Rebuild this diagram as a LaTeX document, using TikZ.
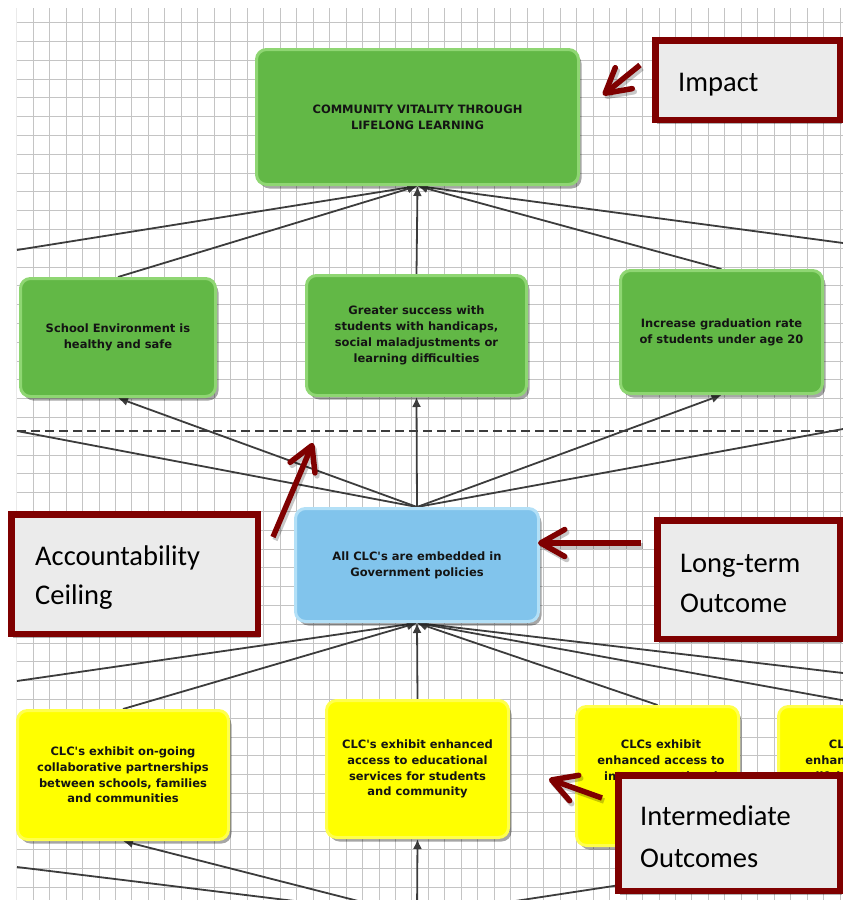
\documentclass[tikz,border=0pt]{standalone}
\usepackage{fontspec}
\newfontfamily\vfont{DejaVu Sans}
\newfontfamily\cfont{Carlito}
\usetikzlibrary{arrows.meta,shadows}
\pgfdeclarelayer{background}
\pgfsetlayers{background,main}
\definecolor{gfill}{HTML}{62B846}
\definecolor{gline}{HTML}{8FD673}
\definecolor{bfill}{HTML}{81C4EC}
\definecolor{bline}{HTML}{B3E0F7}
\definecolor{yfill}{HTML}{FFFF00}
\definecolor{yline}{HTML}{FFFF4D}
\definecolor{cred}{HTML}{7F0000}
\definecolor{cgray}{HTML}{EBEBEB}
\definecolor{conn}{HTML}{3C3C3C}
\definecolor{gridc}{HTML}{C4C4C4}
\tikzset{
  boxbase/.style={rectangle, rounded corners=10pt, line width=3pt, inner sep=0pt,
    drop shadow={shadow xshift=3pt, shadow yshift=-4pt, opacity=0.35, fill=black}},
  gbox/.style={boxbase, fill=gfill, draw=gline},
  bbox/.style={boxbase, fill=bfill, draw=bline},
  ybox/.style={boxbase, fill=yfill, draw=yline},
  btext/.style={font=\vfont\bfseries\fontsize{11.5}{15.8}\selectfont, align=center, text=black!92},
  callout/.style={rectangle, draw=cred, fill=cgray, line width=6.5pt, inner sep=0pt,
    drop shadow={shadow xshift=2pt, shadow yshift=-4pt, opacity=0.3, fill=black}},
  ctext/.style={font=\cfont\fontsize{28.5}{40}\selectfont, anchor=base west, inner sep=0pt, text=black},
  link/.style={draw=conn, line width=1.8pt, -{Latex[length=10pt,width=9pt]}},
  plainlink/.style={draw=conn, line width=1.8pt},
  callarrow/.style={draw=cred, line width=5.5pt, -{Straight Barb[length=24pt,width=27pt,round]}},
  callshadow/.style={draw=black, opacity=0.22, line width=5.5pt, -{Straight Barb[length=24pt,width=27pt,round]}},
  gridline/.style={draw=gridc, line width=1pt},
}
\begin{document}
\begin{tikzpicture}[x=1pt,y=-1pt]
\useasboundingbox (0,0) rectangle (843,900);

% boxes
\node[gbox, minimum width=322pt, minimum height=135pt] (top) at (417.5,117)
  [btext] {COMMUNITY VITALITY THROUGH\\LIFELONG LEARNING};
\node[gbox, btext, minimum width=195pt, minimum height=118pt] (A) at (118,337.5)
  {School Environment is\\healthy and safe};
\node[gbox, btext, minimum width=220pt, minimum height=120pt] (B) at (416.5,335.5)
  {Greater success with\\students with handicaps,\\social maladjustments or\\learning difficulties};
\node[gbox, btext, minimum width=202pt, minimum height=123pt] (C) at (721.5,332)
  {Increase graduation rate\\of students under age 20};
\node[bbox, btext, minimum width=243pt, minimum height=113pt] (blue) at (417,565)
  {All CLC\textquotesingle s are embedded in\\Government policies};
\node[ybox, btext, minimum width=211pt, minimum height=129pt] (Y1) at (123,775)
  {CLC\textquotesingle s exhibit on-going\\collaborative partnerships\\between schools, families\\and communities};
\node[ybox, btext, minimum width=182pt, minimum height=137pt] (Y2) at (417.5,769)
  {CLC\textquotesingle s exhibit enhanced\\access to educational\\services for students\\and community};
\node[ybox, minimum width=162pt, minimum height=139pt] (Y3) at (657.5,776) {};
\node[btext, anchor=north, inner sep=0pt] (Y3t) at (661,740)
  {CLCs exhibit\\enhanced access to\\intergenerational};
\node[ybox, minimum width=181pt, minimum height=139pt] (Y4) at (869,776) {};
\node[btext, anchor=north, inner sep=0pt] (Y4t) at (869,740)
  {CLCs exhibit\\enhanced access to\\lifelong learning};

% free ends
\coordinate (eL1) at (17,250);
\coordinate (eR1) at (843,243);
\coordinate (eL2) at (17,431);
\coordinate (eR2) at (843,429);
\coordinate (eL3) at (17,681);
\coordinate (eR3) at (843,673);
\coordinate (eL4) at (17,867);
\coordinate (src) at (417,916);
\coordinate (dashL) at (17,431);
\coordinate (dashR) at (843,431);

\begin{pgfonlayer}{background}
  \begin{scope}
    \clip (16.7,8.3) rectangle (843,900);
    \foreach \i in {0,...,50} \draw[gridline] ({16.7+16.47*\i},8.3) -- ({16.7+16.47*\i},900);
    \foreach \j in {0,...,46} \draw[gridline] (16.7,{22.7+18.8*\j}) -- (843,{22.7+18.8*\j});
  \end{scope}
  % into impact
  \draw[link] (A.north) -- (top.south);
  \draw[link] (B.north) -- (top.south);
  \draw[link] (C.north) -- (top.south);
  \draw[link] (eL1) -- (top.south);
  \draw[link] (eR1) -- (top.south);
  % from long-term outcome up
  \draw[link] (blue.north) -- (A.south);
  \draw[link] (blue.north) -- (B.south);
  \draw[link] (blue.north) -- (C.south);
  \draw[plainlink] (blue.north) -- (eL2);
  \draw[plainlink] (blue.north) -- (eR2);
  % into long-term outcome
  \draw[link] (Y1.north) -- (blue.south);
  \draw[link] (Y2.north) -- (blue.south);
  \draw[link] (Y3.north) -- (blue.south);
  \draw[link] (Y4.north) -- (blue.south);
  \draw[link] (eL3) -- (blue.south);
  \draw[link] (eR3) -- (blue.south);
  % from below
  \draw[link] (src) -- (Y1.south);
  \draw[link] (src) -- (Y2.south);
  \draw[link] (src) -- (Y4.south);
  \draw[plainlink] (src) -- (eL4);
  % accountability ceiling
  \draw[draw=conn, line width=1.8pt, dash pattern=on 9pt off 5pt] (dashL) -- (dashR);
\end{pgfonlayer}

% callouts
\node[callout, minimum width=184.5pt, minimum height=79.5pt] (impact) at (747.5,80) {};
\node[ctext] (impactT) at (678,91) {Impact};
\node[callout, minimum width=246.5pt, minimum height=119.5pt] (acc) at (134.5,574) {};
\node[ctext] (accT1) at (35,565) {Accountability};
\node[ctext] (accT2) at (35,604) {Ceiling};
\node[callout, minimum width=182.5pt, minimum height=118.5pt] (lto) at (748.5,579.5) {};
\node[ctext] (ltoT1) at (680,572) {Long-term};
\node[ctext] (ltoT2) at (680,612) {Outcome};
\node[callout, minimum width=221.5pt, minimum height=115.5pt] (inter) at (729,833) {};
\node[ctext] (interT1) at (640,825) {Intermediate};
\node[ctext] (interT2) at (640,867) {Outcomes};

% callout arrows
\coordinate (impA) at (640,65);  \coordinate (impB) at (603,95);
\coordinate (accA) at (273,537); \coordinate (accB) at (313,443);
\coordinate (ltoA) at (641,543); \coordinate (ltoB) at (538,543);
\coordinate (intA) at (602,798); \coordinate (intB) at (549,779);
\foreach \a/\b in {impA/impB, accA/accB, ltoA/ltoB, intA/intB}{
  \draw[callshadow] ([shift={(2,3)}]\a) -- ([shift={(2,3)}]\b);
  \draw[callarrow] (\a) -- (\b);
}
\end{tikzpicture}
\end{document}
